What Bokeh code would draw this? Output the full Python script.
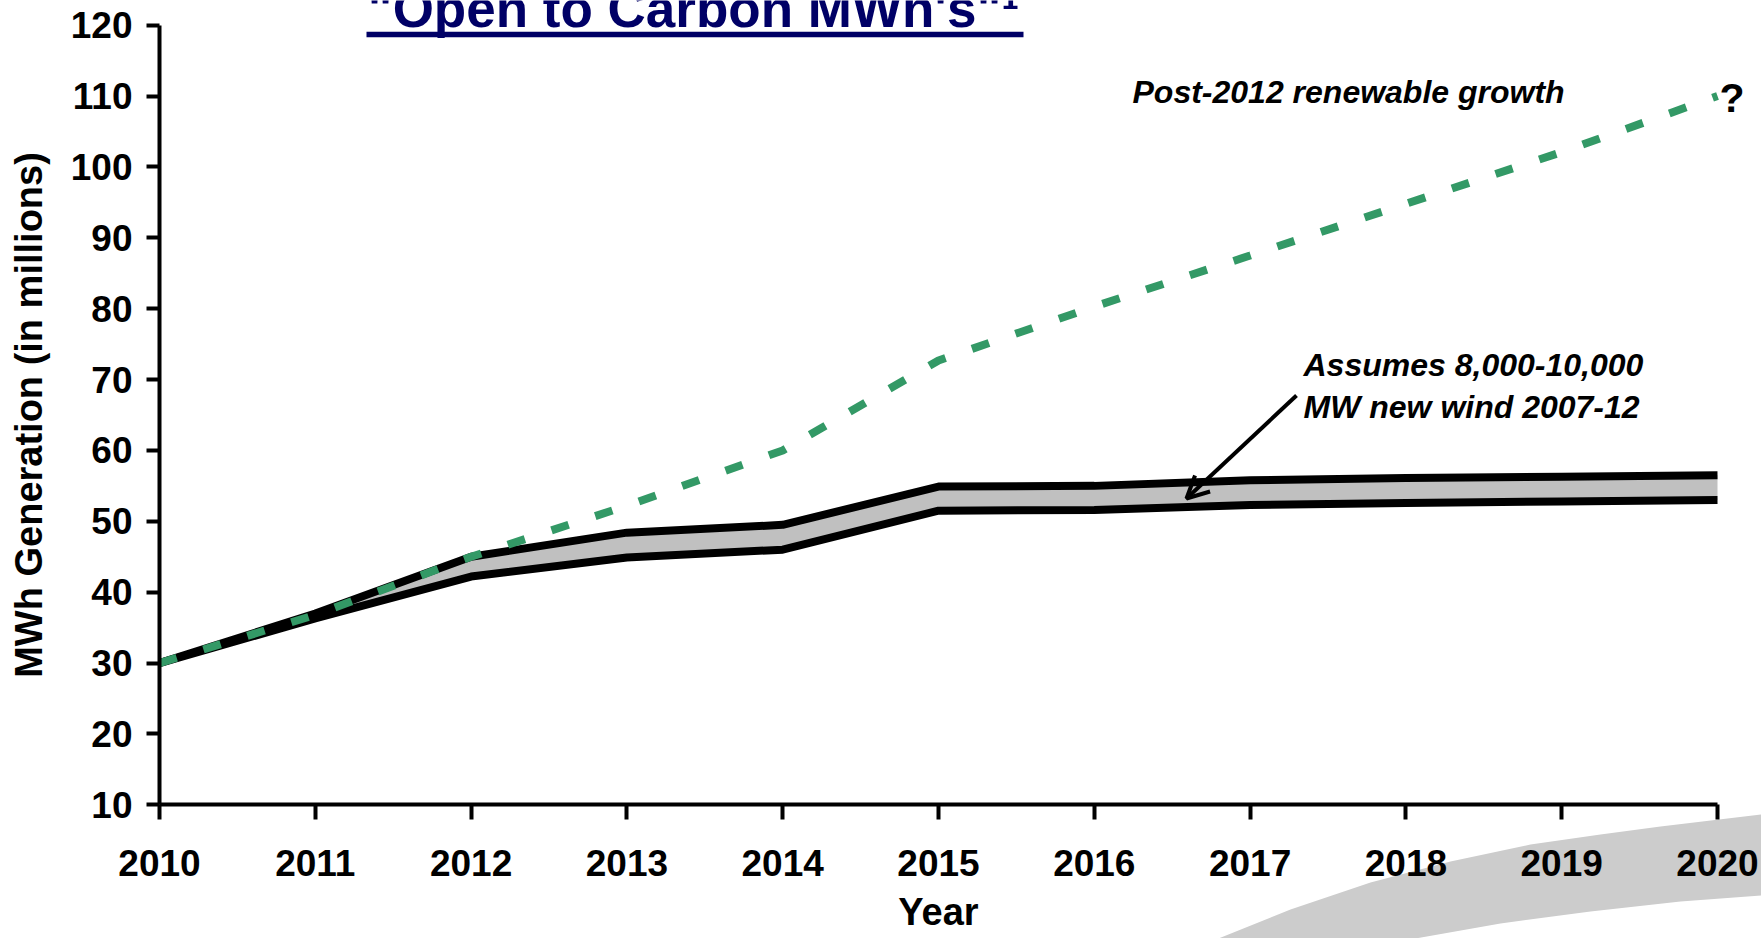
from bokeh.plotting import figure
from bokeh.models import Range1d, Label, Arrow, OpenHead, FixedTicker
from bokeh.embed import file_html
from bokeh.resources import INLINE

# ---- data ----
years = [2010, 2011, 2012, 2013, 2014, 2015, 2016, 2017, 2018, 2019, 2020]
wind_high = [30.0, 37.0, 45.0, 48.4, 49.5, 54.9, 55.0, 55.8, 56.1, 56.3, 56.5]
wind_low = [30.0, 36.3, 42.2, 44.9, 46.0, 51.5, 51.6, 52.3, 52.6, 52.8, 53.0]
renewable_growth = [30.0, 36.8, 45.0, 52.2, 60.0, 72.7, 80.3, 87.5, 94.8, 102.1, 110.0]
y_ticks = [10, 20, 30, 40, 50, 60, 70, 80, 90, 100, 110, 120]

title_text = "\"Open to Carbon MWh's\"\u00b9"
note_growth = "Post-2012 renewable growth"
note_wind_1 = "Assumes 8,000-10,000"
note_wind_2 = "MW new wind 2007-12"

# ---- layout (pixels of the 1761x938 canvas) ----
W, H = 1761, 938
X_2010, X_2020 = 159.0, 1717.0
Y_120, Y_10 = 24.7, 804.3
px_per_year = (X_2020 - X_2010) / 10.0
px_per_unit = (Y_10 - Y_120) / 110.0


def px2x(px):
    return 2010 + (px - X_2010) / px_per_year


def px2y(py):
    return 10 + (Y_10 - py) / px_per_unit


FONT = "Liberation Sans"
NAVY = "#000066"
GREEN = "#339966"
BAND = "#C0C0C0"
SWOOSH = "#CCCCCC"

p = figure(width=W, height=H,
           x_range=Range1d(px2x(0), px2x(W)), y_range=Range1d(px2y(H), px2y(0)),
           output_backend="svg", toolbar_location=None, min_border=0)
p.outline_line_color = None
p.grid.visible = False
p.background_fill_color = "white"
p.border_fill_color = "white"

# decorative swoosh (bottom right), outline given in canvas pixels
sw_px = [(1218, 938), (1290, 909), (1370, 882), (1450, 861), (1530, 844), (1600, 834),
         (1660, 826), (1761, 814), (1761, 895), (1680, 901), (1590, 911), (1500, 923),
         (1415, 938)]
p.patch([px2x(a) for a, b in sw_px], [px2y(b) for a, b in sw_px],
        fill_color=SWOOSH, line_color=None)

# band between the two wind scenarios
p.varea(x=years, y1=wind_low, y2=wind_high, fill_color=BAND)
p.line(years, wind_high, line_color="black", line_width=8)
p.line(years, wind_low, line_color="black", line_width=8)
p.line(years, renewable_growth, line_color=GREEN, line_width=8, line_dash="18 28")

# axes, drawn at fixed data locations
p.xaxis.fixed_location = 10
p.yaxis.fixed_location = 2010
p.xaxis.bounds = (2010, 2020)
p.yaxis.bounds = (10, 120)
p.xaxis.ticker = FixedTicker(ticks=years)
p.yaxis.ticker = FixedTicker(ticks=y_ticks)
for ax in (p.xaxis, p.yaxis):
    ax.axis_line_width = 4
    ax.axis_line_color = "black"
    ax.major_tick_line_width = 4
    ax.major_tick_line_color = "black"
    ax.major_tick_in = 0
    ax.minor_tick_line_color = None
    ax.major_label_text_font = FONT
    ax.major_label_text_font_style = "bold"
    ax.major_label_text_font_size = "37px"
    ax.major_label_text_color = "black"
    ax.axis_label_text_font = FONT
    ax.axis_label_text_font_style = "bold"
    ax.axis_label_text_font_size = "38px"
    ax.axis_label_text_color = "black"
p.xaxis.major_tick_out = 15
p.yaxis.major_tick_out = 13
p.xaxis.major_label_standoff = 30
p.yaxis.major_label_standoff = 14
p.xaxis.axis_label = "Year"
p.yaxis.axis_label = "MWh Generation (in millions)"
p.xaxis.axis_label_standoff = 12
p.yaxis.axis_label_standoff = 18

BASE_SHIFT = 0.34  # rendered alphabetic baseline sits this many em below the anchor


def add_text(text, left_px, baseline_px, size, style, color="black"):
    p.add_layout(Label(x=px2x(left_px), y=px2y(baseline_px - BASE_SHIFT * size),
                       text=text, text_font=FONT, text_font_style=style,
                       text_font_size=f"{size}px", text_color=color,
                       text_baseline="alphabetic", text_align="left"))


# title with underline
add_text(title_text, 367, 26, 53, "bold", NAVY)
p.line([px2x(366), px2x(1023)], [px2y(34), px2y(34)], line_color=NAVY, line_width=5.5)

# notes
add_text(note_growth, 1132, 102, 32, "bold italic")
add_text("?", 1719, 111, 41, "bold")
add_text(note_wind_1, 1303, 375, 32, "bold italic")
add_text(note_wind_2, 1303, 417, 32, "bold italic")
p.add_layout(Arrow(x_start=px2x(1296), y_start=px2y(395), x_end=px2x(1186), y_end=px2y(498),
                   line_width=4, line_color="black",
                   end=OpenHead(size=22, line_width=4, line_color="black")))

open("out.html", "w").write(file_html(p, INLINE))
